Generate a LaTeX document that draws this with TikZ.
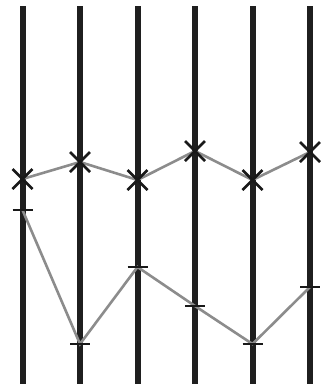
\documentclass[tikz,border=0pt]{standalone}
\usetikzlibrary{calc}
\begin{document}
\begin{tikzpicture}[x=1pt,y=-1pt,
  pole/.style={line width=6pt,color=black!88},
  link/.style={line width=2.6pt,color=black!45},
  xmark/.style={line width=2.6pt,color=black!90},
  tmark/.style={line width=2.2pt,color=black!90}]
\useasboundingbox (0,0) rectangle (322,389);
\foreach \i/\x in {1/22.5,2/80,3/137.5,4/195,5/252.5,6/310}{
  \coordinate (top\i) at (\x,6);
  \coordinate (bot\i) at (\x,384);
  \draw[pole] (top\i) -- (bot\i);
}
\coordinate (x1) at (22.5,179);
\coordinate (x2) at (80,162);
\coordinate (x3) at (137.5,180);
\coordinate (x4) at (195,151);
\coordinate (x5) at (252.5,180);
\coordinate (x6) at (310,152);
\coordinate (t1) at (22.5,210);
\coordinate (t2) at (80,344);
\coordinate (t3) at (137.5,267);
\coordinate (t4) at (195,306);
\coordinate (t5) at (252.5,344);
\coordinate (t6) at (310,287);
\draw[link] (x1) -- (x2) -- (x3) -- (x4) -- (x5) -- (x6);
\draw[link] (t1) -- (t2) -- (t3) -- (t4) -- (t5) -- (t6);
\foreach \i in {1,...,6}{
  \draw[xmark] ($(x\i)+(-10,-10)$) -- ($(x\i)+(10,10)$);
  \draw[xmark] ($(x\i)+(-10,10)$) -- ($(x\i)+(10,-10)$);
  \draw[tmark] ($(t\i)+(-10,0)$) -- ($(t\i)+(10,0)$);
}
\end{tikzpicture}
\end{document}
